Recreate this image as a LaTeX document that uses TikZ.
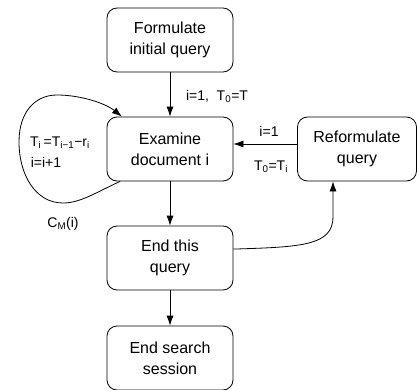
\documentclass[tikz,border=0pt]{standalone}
\usepackage{fontspec}
\setmainfont{Liberation Sans}
\usetikzlibrary{arrows.meta}

\begin{document}
\begin{tikzpicture}
  [x=1pt,y=1pt,
   boxN/.style={draw,rounded corners=10pt,minimum width=126pt,minimum height=64pt,
                align=center,font=\fontsize{16}{21}\selectfont},
   labelN/.style={inner sep=0pt,anchor=base,font=\fontsize{14}{16}\selectfont},
   line width=0.8pt,
   >={Latex[length=10pt,width=7pt]}]

  \useasboundingbox (0,0) rectangle (417,389);

  \node at (170,349) [boxN] (formulate) {Formulate\\initial query};
  \node at (170,240) [boxN] (examine)   {Examine\\document i};
  \node at (357,240) [boxN,minimum width=119pt] (reform) {Reformulate\\query};
  \node at (170,131) [boxN] (endq)      {End this\\query};
  \node at (170,31)  [boxN] (ends)      {End search\\session};

  \draw [->] (formulate) -- (examine);
  \draw [->] (examine) -- (endq);
  \draw [->] (endq) -- (ends);
  \draw [->] ([yshift=5pt]reform.west) -- ([yshift=5pt]examine.east);
  \draw [->] (endq.8) .. controls (300,142) and (333,143) .. (333,172)
        -- ([xshift=-24pt]reform.south);
  % loop on examine
  \draw [->] (examine.213) .. controls (95,196) and (80,186) .. (63,186)
        .. controls (35,186) and (19,215) .. (19,247)
        .. controls (19,277) and (35,294) .. (57,294)
        .. controls (80,294) and (105,286) .. (examine.146);

  \node at (217,289) [labelN] (startlab) {i=1,\ \ T\textsubscript{0}=T};
  \node at (269,253) [labelN] (relab1)   {i=1};
  \node at (271,219) [labelN] (relab2)   {T\textsubscript{0}=T\textsubscript{i}};
  \node at (60,243)  [labelN] (looplab1) {T\textsubscript{i}\,=T\textsubscript{i−1}−r\textsubscript{i}};
  \node at (46,222)  [labelN] (looplab2) {i=i+1};
  \node at (63,162)  [labelN] (costlab)  {C\textsubscript{M}(i)};
\end{tikzpicture}
\end{document}
